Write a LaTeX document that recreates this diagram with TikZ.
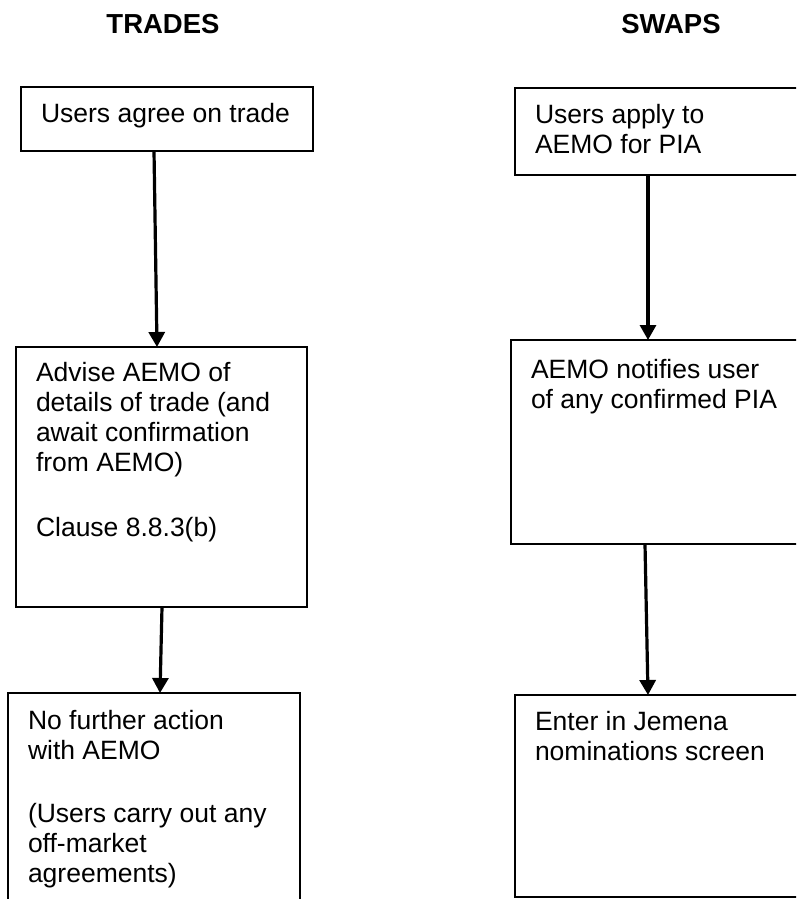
\documentclass[tikz,border=0pt]{standalone}
\usepackage{fontspec}
\setmainfont{Liberation Sans}
\usetikzlibrary{arrows.meta}
\newcommand{\boxcontent}[4]{\parbox[c][#2][t]{#1}{\raggedright\vspace*{#3}\rule{0pt}{20pt}#4}}
\tikzset{
  boxsty/.style={draw=black, line width=2pt, inner xsep=20pt, inner ysep=0pt, outer sep=0pt,
    anchor=north west, font=\fontsize{26.5pt}{30pt}\selectfont},
  titlesty/.style={anchor=base, inner sep=0pt, font=\fontsize{27.5pt}{30pt}\selectfont\bfseries},
  arrowsty/.style={draw=black, line width=3.2pt, -{Triangle[length=15pt,width=16pt]}}
}
\begin{document}
\begin{tikzpicture}[x=1pt,y=-1pt]
\useasboundingbox (0,0) rectangle (796,899);
\fill[white] (0,0) rectangle (796,899);
\clip (0,0) rectangle (796,899);
\node[titlesty] (t1) at (163,33.5) {TRADES};
\node[titlesty] (t2) at (671,33.5) {SWAPS};
\node[boxsty] (b1) at (21,87) {\boxcontent{252pt}{64pt}{15pt}{Users agree on trade}};
\node[boxsty] (b2) at (16,347) {\boxcontent{251pt}{260pt}{14pt}{Advise AEMO of\\ details of trade (and\\ await confirmation\\ from AEMO)\\[35pt] Clause 8.8.3(b)}};
\node[boxsty] (b3) at (8,693) {\boxcontent{252pt}{260pt}{16pt}{No further action\\ with AEMO\\[33pt] (Users carry out any\\ off-market\\ agreements)}};
\node[boxsty] (b4) at (515,88) {\boxcontent{252pt}{87pt}{15pt}{Users apply to\\ AEMO for PIA}};
\node[boxsty] (b5) at (511,340) {\boxcontent{252pt}{204pt}{18pt}{AEMO notifies user\\ of any confirmed PIA}};
\node[boxsty] (b6) at (515,695) {\boxcontent{252pt}{202pt}{15pt}{Enter in Jemena\\ nominations screen}};
\draw[arrowsty] ([xshift=133pt]b1.south west) -- ([xshift=141pt]b2.north west);
\draw[arrowsty] ([xshift=146pt]b2.south west) -- ([xshift=152pt]b3.north west);
\draw[arrowsty] ([xshift=133pt]b4.south west) -- ([xshift=137pt]b5.north west);
\draw[arrowsty] ([xshift=134pt]b5.south west) -- ([xshift=133pt]b6.north west);
\end{tikzpicture}
\end{document}
